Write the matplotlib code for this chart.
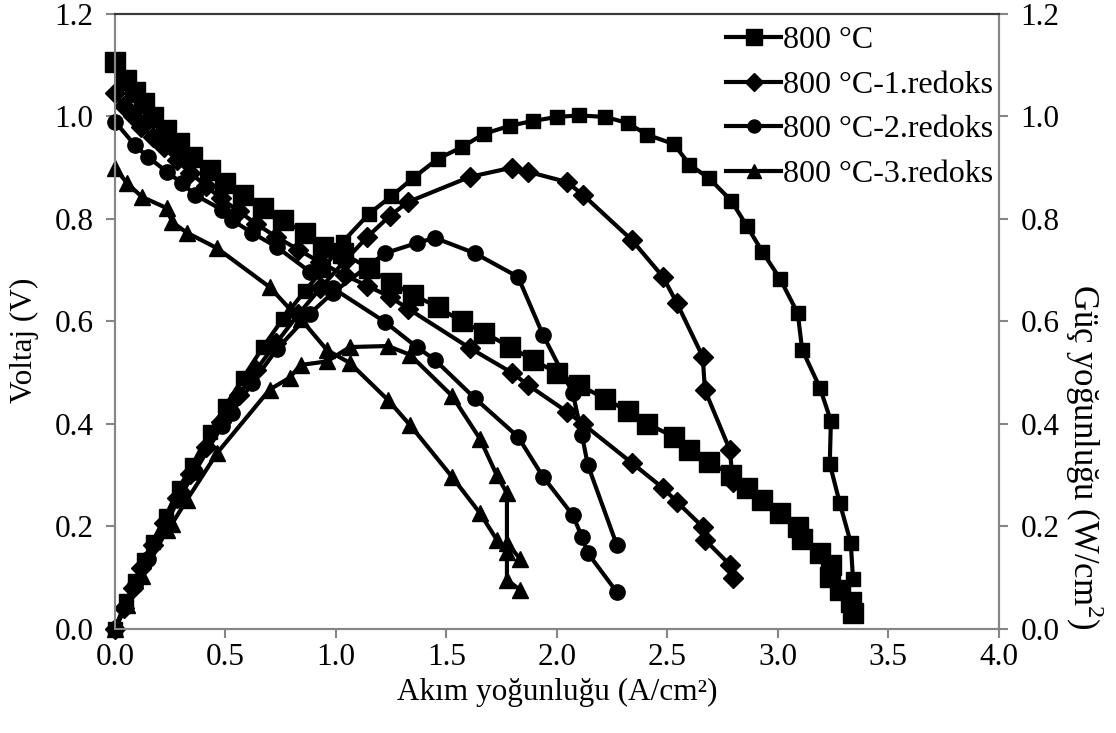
"""
Akım-voltaj ve güç yoğunluğu eğrileri, 800 °C ve redoks çevrimleri
"""

import matplotlib
matplotlib.use('Agg')
from matplotlib import pyplot as plt

plt.rcParams['font.family'] = ['Liberation Serif', 'DejaVu Serif']
plt.rcParams['mathtext.fontset'] = 'custom'
plt.rcParams['mathtext.rm'] = 'Liberation Serif'

# 800 °C
akim_800 = [0, 0.05, 0.09, 0.13, 0.17, 0.23, 0.29, 0.35, 0.43, 0.50, 0.58, 0.67, 0.76, 0.86, 0.94,
            1.03, 1.15, 1.25, 1.35, 1.46, 1.57, 1.67, 1.79, 1.89, 2.00, 2.10, 2.22, 2.32, 2.41, 2.53,
            2.60, 2.69, 2.79, 2.86, 2.93, 3.01, 3.09, 3.11, 3.19, 3.24, 3.235, 3.28, 3.33, 3.34]
voltaj_800 = [1.106, 1.071, 1.048, 1.026, 0.999, 0.973, 0.948, 0.921, 0.896, 0.870, 0.847, 0.821,
              0.798, 0.772, 0.745, 0.733, 0.704, 0.675, 0.652, 0.628, 0.600, 0.578, 0.550, 0.525,
              0.500, 0.476, 0.449, 0.425, 0.400, 0.375, 0.349, 0.326, 0.300, 0.275, 0.252, 0.226,
              0.199, 0.176, 0.148, 0.125, 0.101, 0.076, 0.053, 0.031]
guc_800 = [0, 0.054, 0.094, 0.134, 0.17, 0.22, 0.275, 0.32, 0.385, 0.435, 0.49, 0.55, 0.605, 0.66,
           0.70, 0.755, 0.81, 0.844, 0.88, 0.917, 0.94, 0.966, 0.982, 0.991, 0.999, 1.002, 0.999,
           0.987, 0.964, 0.946, 0.906, 0.879, 0.835, 0.786, 0.736, 0.683, 0.616, 0.545, 0.471,
           0.406, 0.322, 0.246, 0.168, 0.098]

# 800 °C-1.redoks
akim_r1 = [0, 0.04, 0.08, 0.12, 0.17, 0.22, 0.28, 0.34, 0.41, 0.48, 0.56, 0.64, 0.73, 0.83, 0.93,
           1.04, 1.14, 1.244, 1.326, 1.606, 1.796, 1.869, 2.045, 2.118, 2.339, 2.48, 2.543, 2.66,
           2.67, 2.783, 2.796]
voltaj_r1 = [1.045, 1.02, 1.0, 0.98, 0.96, 0.94, 0.915, 0.89, 0.865, 0.84, 0.815, 0.79, 0.765,
             0.74, 0.715, 0.69, 0.67, 0.648, 0.625, 0.548, 0.5, 0.476, 0.424, 0.4, 0.324, 0.275,
             0.248, 0.199, 0.174, 0.125, 0.1]
guc_r1 = [0, 0.041, 0.08, 0.118, 0.163, 0.207, 0.256, 0.303, 0.355, 0.403, 0.456, 0.506, 0.558,
          0.614, 0.665, 0.718, 0.764, 0.806, 0.833, 0.882, 0.9, 0.892, 0.872, 0.847, 0.759, 0.687,
          0.636, 0.531, 0.466, 0.349, 0.287]

# 800 °C-2.redoks
akim_r2 = [0, 0.09, 0.149, 0.235, 0.303, 0.362, 0.484, 0.529, 0.62, 0.733, 0.882, 0.986, 1.222,
           1.366, 1.448, 1.629, 1.824, 1.937, 2.072, 2.113, 2.14, 2.271]
voltaj_r2 = [0.99, 0.944, 0.921, 0.892, 0.87, 0.847, 0.818, 0.798, 0.773, 0.745, 0.697, 0.665,
             0.599, 0.55, 0.525, 0.45, 0.375, 0.297, 0.222, 0.18, 0.148, 0.072]
guc_r2 = [0, 0.085, 0.137, 0.21, 0.264, 0.307, 0.396, 0.422, 0.479, 0.546, 0.615, 0.656, 0.733,
          0.753, 0.763, 0.733, 0.687, 0.574, 0.46, 0.379, 0.32, 0.164]

# 800 °C-3.redoks
akim_r3 = [0, 0.054, 0.122, 0.235, 0.258, 0.326, 0.462, 0.70, 0.79, 0.84, 0.96, 1.063, 1.235,
           1.335, 1.525, 1.652, 1.728, 1.774, 1.774, 1.833]
voltaj_r3 = [0.9, 0.87, 0.843, 0.821, 0.794, 0.773, 0.743, 0.667, 0.625, 0.605, 0.544, 0.519,
             0.447, 0.398, 0.297, 0.226, 0.174, 0.15, 0.096, 0.076]
guc_r3 = [0, 0.047, 0.103, 0.193, 0.205, 0.252, 0.343, 0.467, 0.49, 0.515, 0.522, 0.55, 0.552,
          0.535, 0.455, 0.371, 0.3, 0.265, 0.168, 0.137]

etiketler = ['800 °C', '800 °C-1.redoks', '800 °C-2.redoks', '800 °C-3.redoks']
x_ticks = [0.0, 0.5, 1.0, 1.5, 2.0, 2.5, 3.0, 3.5, 4.0]
y_ticks = [0.0, 0.2, 0.4, 0.6, 0.8, 1.0, 1.2]

seriler = [
    (akim_800, voltaj_800, guc_800, 's', 14, 9.5),
    (akim_r1, voltaj_r1, guc_r1, 'D', 10.5, 10.5),
    (akim_r2, voltaj_r2, guc_r2, 'o', 11, 11),
    (akim_r3, voltaj_r3, guc_r3, '^', 11.5, 11.5),
]

fig = plt.figure(figsize=(11.16, 7.33), dpi=100)
ax = fig.add_axes([0.103, 0.142, 0.792, 0.839])
ax2 = ax.twinx()

cizgiler = []
for (akim, v, p, m, ms_v, ms_p), etiket in zip(seriler, etiketler):
    ln, = ax.plot(akim, v, color='black', lw=3, marker=m, ms=ms_v, clip_on=False, label=etiket)
    ax2.plot(akim, p, color='black', lw=3, marker=m, ms=ms_p, clip_on=False)
    cizgiler.append(ln)

gri = '#868686'
for a in (ax, ax2):
    a.set_xlim(0, 4.0)
    a.set_ylim(0, 1.2)
    a.set_yticks(y_ticks)
    a.set_yticklabels(['%.1f' % t for t in y_ticks])
    for s in ('left', 'right', 'bottom'):
        a.spines[s].set_color(gri)
        a.spines[s].set_linewidth(1.5)
    a.spines['top'].set_color('#3a3a3a')
    a.spines['top'].set_linewidth(1.5)
    a.tick_params(axis='y', direction='out', length=6.5, width=1.5, color=gri,
                  labelsize=22.5, pad=9)
    a.tick_params(axis='x', direction='out', length=6.5, width=1.5, color=gri,
                  labelsize=22.5, pad=4)

ax.set_xticks(x_ticks)
ax.set_xticklabels(['%.1f' % t for t in x_ticks])

ax.set_xlabel('Akım yoğunluğu (A/cm²)', fontsize=22.5, labelpad=4)
ax.set_ylabel('Voltaj (V)', fontsize=22.5)
ax.yaxis.set_label_coords(-0.086, 0.47)
ax2.set_ylabel('Güç yoğunluğu (W/cm$^2$)', fontsize=25, rotation=270, va='center')
ax2.yaxis.set_label_coords(1.097, 0.28)

leg = ax2.legend(cizgiler, etiketler, loc='upper right', bbox_to_anchor=(1.007, 1.0),
                 frameon=False, fontsize=23, handlelength=1.75, handletextpad=0.05,
                 borderaxespad=0.05, borderpad=0.32, labelspacing=0.48, markerscale=0.85)

fig.savefig('out.png', dpi=100)
